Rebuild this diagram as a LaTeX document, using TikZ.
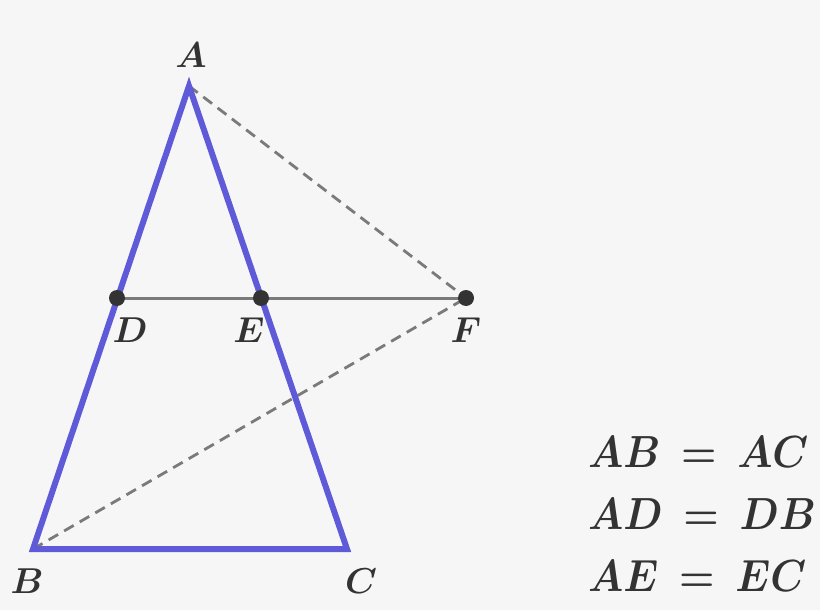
\documentclass[tikz,border=0pt]{standalone}
\usepackage{fix-cm}
\usepackage{graphicx}
\usepackage{amsmath,bm}
\definecolor{bgc}{HTML}{F6F6F6}
\definecolor{tri}{HTML}{5F5BD8}
\definecolor{ink}{HTML}{333333}
\definecolor{seg}{HTML}{7A7A7A}
\tikzset{
  lbl/.style={text=ink,font=\fontsize{36}{40}\selectfont\boldmath,inner sep=0pt},
  eqn/.style={text=ink,font=\fontsize{45}{52}\selectfont\boldmath,inner sep=0pt,anchor=base west},
  dot/.style={circle,fill=ink,minimum size=16pt,inner sep=0pt},
  dashline/.style={seg,line width=2.8pt,dash pattern=on 11pt off 7pt},
  segline/.style={seg,line width=3pt},
  triline/.style={tri,line width=6pt,line join=miter}
}
\newcommand{\eqrow}[2]{\scalebox{0.9}[1]{$#1\mskip3mu=\mskip3mu#2$}}
\begin{document}
\begin{tikzpicture}[x=1pt,y=-1pt]
\fill[bgc] (0,0) rectangle (820,610);
\useasboundingbox (0,0) rectangle (820,610);
\coordinate (A) at (189,86);
\coordinate (B) at (33,549);
\coordinate (C) at (347,549);
\coordinate (D) at (117,298);
\coordinate (E) at (261,298);
\coordinate (F) at (466,298);
\draw[dashline] (A) -- (F);
\draw[dashline] (B) -- (F);
\draw[segline] (D) -- (F);
\draw[triline] (A) -- (B) -- (C) -- cycle;
\node[dot] (dD) at (D) {};
\node[dot] (dE) at (E) {};
\node[dot] (dF) at (F) {};
\node[lbl] (lA) at (191,55) {$A$};
\node[lbl] (lD) at (130,330) {$D$};
\node[lbl] (lE) at (249,330) {$E$};
\node[lbl] (lF) at (466,330) {$F$};
\node[lbl] (lB) at (27,581) {$B$};
\node[lbl] (lC) at (361,581) {$C$};
\node[eqn] (e1) at (588,467) {\eqrow{AB}{AC}};
\node[eqn] (e2) at (588,529) {\eqrow{AD}{DB}};
\node[eqn] (e3) at (588,591) {\eqrow{AE}{EC}};
\end{tikzpicture}
\end{document}
